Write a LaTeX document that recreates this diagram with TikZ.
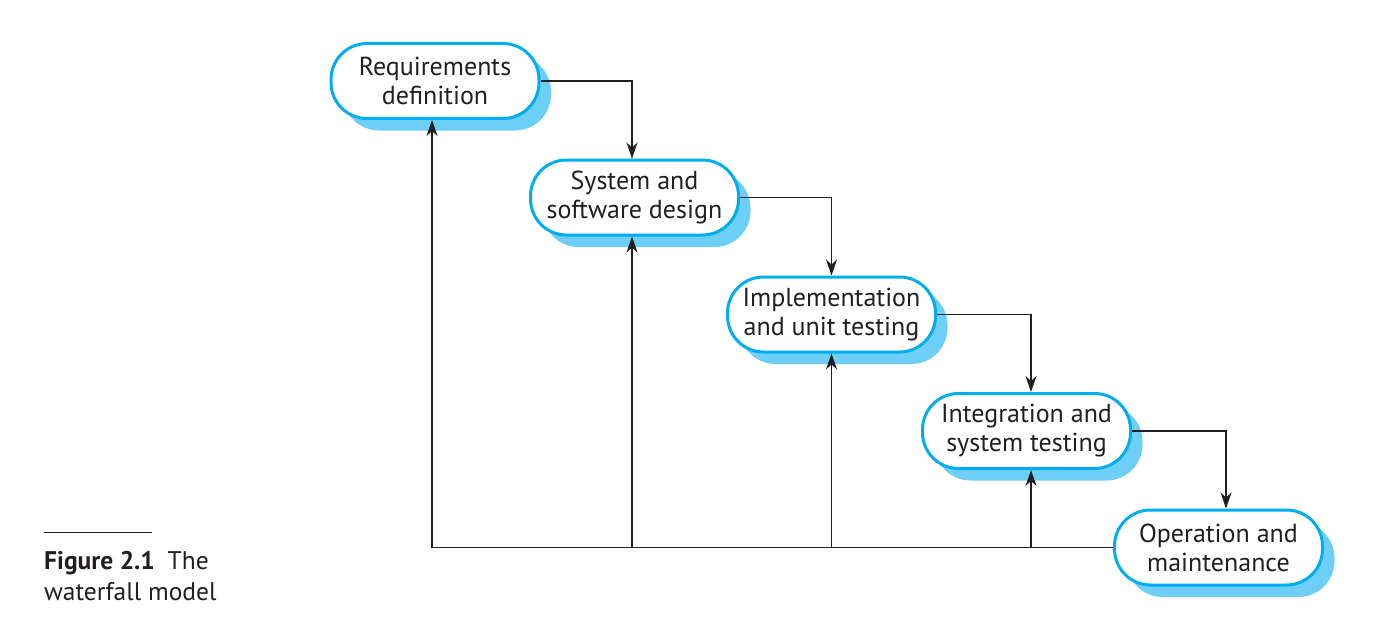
\documentclass[tikz,border=0pt]{standalone}
\usepackage{fontspec}
\setmainfont{PT Sans}
\usetikzlibrary{arrows.meta,shadows}
\definecolor{boxblue}{HTML}{00AEEF}
\definecolor{shadowblue}{HTML}{6DCFF6}
\definecolor{ink}{HTML}{231F20}
\tikzset{
  phase/.style={draw=boxblue, line width=3pt, fill=white, rounded corners=36pt,
    minimum width=208pt, minimum height=75pt, align=center, inner sep=0pt,
    font=\fontsize{26}{29}\selectfont, text=ink,
    drop shadow={shadow xshift=12pt, shadow yshift=-12pt, fill=shadowblue, draw=none, opacity=1}},
  flow/.style={draw=ink, line width=1.1pt, -{Stealth[length=16pt,width=11pt,inset=5pt]}},
  link/.style={draw=ink, line width=1.1pt},
  captext/.style={anchor=base west, inner sep=0pt, text=ink, font=\fontsize{25.5}{29}\selectfont}
}
\begin{document}
\begin{tikzpicture}[x=1pt,y=-1pt]
\useasboundingbox (0,0) rectangle (1380,623);
\node[phase] (req) at (435,81) {Requirements\\definition};
\node[phase] (des) at (634.5,197.5) {System and\\software design};
\node[phase] (imp) at (831.5,314.5) {Implementation\\and unit testing};
\node[phase] (int) at (1026.5,431) {Integration and\\system testing};
\node[phase] (ops) at (1218.5,547.5) {Operation and\\maintenance};
% forward flow
\draw[flow] (req.east) -| ([xshift=-2.5pt]des.north);
\draw[flow] (des.east) -| (imp.north);
\draw[flow] (imp.east) -| ([xshift=4.5pt]int.north);
\draw[flow] (int.east) -| ([xshift=7.5pt]ops.north);
% feedback
\coordinate (fbA) at (432,547.5);
\coordinate (fbB) at (632,547.5);
\coordinate (fbC) at (831.5,547.5);
\coordinate (fbD) at (1031,547.5);
\draw[link] (ops.west) -- (fbA);
\draw[flow] (fbA) -- (req.south -| fbA);
\draw[flow] (fbB) -- (des.south -| fbB);
\draw[flow] (fbC) -- (imp.south -| fbC);
\draw[flow] (fbD) -- (int.south -| fbD);
% caption
\coordinate (ruleL) at (44,532);
\coordinate (ruleR) at (152,532);
\draw[ink, line width=1pt] (ruleL) -- (ruleR);
\node[captext] (cap1) at (44,569) {\textbf{Figure 2.1}\enspace The};
\node[captext] (cap2) at (44,600) {waterfall model};
\end{tikzpicture}
\end{document}
